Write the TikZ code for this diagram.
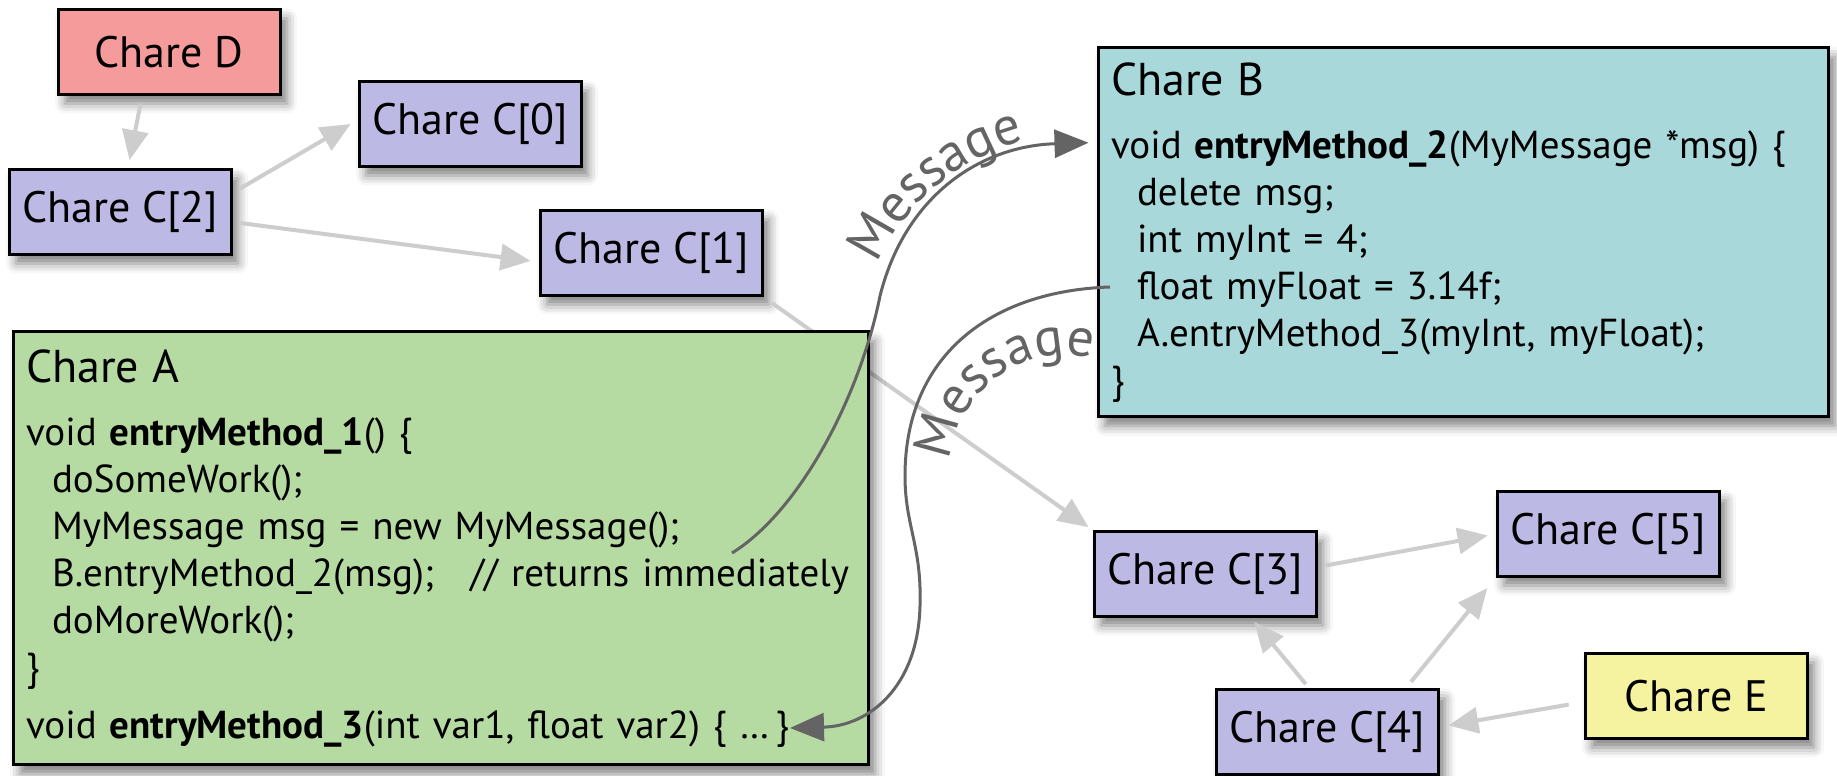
\documentclass[tikz,border=0pt]{standalone}
\usepackage{fontspec}
\setmainfont{PT Sans}
\usetikzlibrary{arrows.meta,shadows.blur,decorations.text}
\definecolor{charec}{RGB}{188,186,228}
\definecolor{chared}{RGB}{245,155,155}
\definecolor{charee}{RGB}{245,243,160}
\definecolor{charea}{RGB}{182,219,162}
\definecolor{chareb}{RGB}{168,216,218}
\definecolor{arrowgrey}{RGB}{205,205,205}
\definecolor{msggrey}{RGB}{100,100,100}
\newcommand{\charefont}{\fontsize{44}{50}\selectfont}
\newcommand{\titlefont}{\fontsize{46}{50}\selectfont}
\newcommand{\srcfont}{\fontsize{39}{47}\selectfont}
\newcommand{\msgfont}{\fontsize{54}{60}\selectfont}
\tikzset{
  chare/.style={draw, line width=3pt, fill=charec, minimum width=222pt, minimum height=85pt, inner sep=0pt, font=\charefont,
    blur shadow={shadow xshift=7pt, shadow yshift=-9pt, shadow blur radius=10pt, shadow opacity=50}},
  codebox/.style={chare, align=left, inner xsep=13pt, inner ysep=0pt, font=\srcfont},
  send/.style={-{Triangle[length=30pt,width=26pt]}, line width=4pt, draw=arrowgrey, shorten <=8pt, shorten >=8pt},
  msg/.style={-{Triangle[length=34pt,width=28pt]}, line width=3pt, draw=msggrey},
  msglabel/.style={decorate, decoration={text along path, text={|\msgfont\color{msggrey}|Message}, text align=center}},
}

\begin{document}
\begin{tikzpicture}[x=1pt,y=1pt]
\useasboundingbox (0,0) rectangle (1837,776);
\node[chare, fill=chared] (D) at (169,724) {Chare D};
\node[chare] (C0) at (470,652) {Chare C[0]};
\node[chare] (C2) at (120,564) {Chare C[2]};
\node[chare] (C1) at (651,523) {Chare C[1]};
\node[chare] (C3) at (1205,202) {Chare C[3]};
\node[chare] (C5) at (1608,242) {Chare C[5]};
\node[chare] (C4) at (1327,44) {Chare C[4]};
\node[chare, fill=charee] (E) at (1696,80) {Chare E};

\draw[send] ([xshift=-27pt]D.south) -- ([xshift=8pt]C2.north);
\draw[send] ([yshift=19pt]C2.east) -- ([yshift=4pt]C0.west);
\draw[send] ([yshift=-10pt]C2.east) -- ([yshift=-9pt]C1.west);
\draw[send, shorten <=10pt, shorten >=5pt] (C1.south east) -- (C3.north west);
\draw[send] ([yshift=7pt]C3.east) -- (C5.west);
\draw[send, shorten <=5pt, shorten >=5pt] ([xshift=-18pt]C4.north) -- ([xshift=46pt]C3.south);
\draw[send, shorten <=8pt, shorten >=13pt] ([xshift=79pt]C4.north) -- (C5.south west);
\draw[send, shorten <=15pt, shorten >=9pt] ([yshift=-6pt]E.west) -- ([yshift=5pt]C4.east);

\node[codebox, fill=charea, minimum width=855pt, minimum height=433pt, text width=829pt] (A) at (440.5,227.5) {%
{\titlefont Chare A}\\[16pt]
void \textbf{entryMethod\_1}() \{\\
\hspace*{26pt}doSomeWork();\\
\hspace*{26pt}MyMessage msg = new MyMessage();\\
\hspace*{26pt}B.entryMethod\_2(msg);\hspace{0.6em} // returns immediately\\
\hspace*{26pt}doMoreWork();\\
\}\\[11pt]
void \textbf{entryMethod\_3}(int var1, float var2) \{ \ldots\,\}};

\node[codebox, fill=chareb, minimum width=730pt, minimum height=369pt, text width=704pt] (B) at (1463,543.5) {%
{\titlefont Chare B}\\[16pt]
void \textbf{entryMethod\_2}(MyMessage *msg) \{\\
\hspace*{26pt}delete msg;\\
\hspace*{26pt}int myInt = 4;\\
\hspace*{26pt}float myFloat = 3.14f;\\
\hspace*{26pt}A.entryMethod\_3(myInt, myFloat);\\
\}};

\coordinate (m1) at (732,223);
\coordinate (m2) at (1110,489);
\coordinate (m3) at (790,48);
\coordinate (arc1) at (1080,420);
\coordinate (arc2) at (1066,305);
\draw[msg, shorten >=8pt] (m1) .. controls (800,265) and (860,380) .. (880,480)
  .. controls (905,580) and (980,630) .. ([yshift=90pt]B.west);
\draw[msg] (m2) .. controls (990,485) and (905,420) .. (905,300)
  .. controls (905,250) and (922,230) .. (920,170) .. controls (918,90) and (870,50) .. (m3);
\path[msglabel] ([shift={(190:222)}]arc1) arc[start angle=190, end angle=70, radius=222];
\path[msglabel] ([shift={(186:116)}]arc2) arc[start angle=186, end angle=66, radius=116];
\end{tikzpicture}
\end{document}
